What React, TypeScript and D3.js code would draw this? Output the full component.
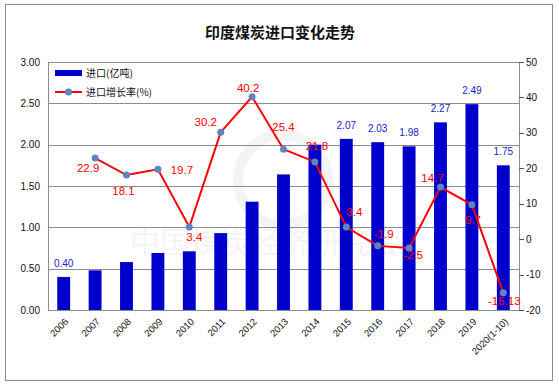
import React from "react";
import * as d3 from "d3";

const years = ["2006", "2007", "2008", "2009", "2010", "2011", "2012", "2013", "2014", "2015", "2016", "2017", "2018", "2019", "2020(1-10)"];
const imports = [0.40, 0.48, 0.58, 0.69, 0.71, 0.93, 1.31, 1.64, 2.00, 2.07, 2.03, 1.98, 2.27, 2.49, 1.75];
const importLabels = ["0.40", "", "", "", "", "", "", "", "", "2.07", "2.03", "1.98", "2.27", "2.49", "1.75"];
const growth = [null, 22.9, 18.1, 19.7, 3.4, 30.2, 40.2, 25.4, 21.8, 3.4, -1.9, -2.5, 14.7, 9.7, -15.13];
const growthLabels = ["", "22.9", "18.1", "19.7", "3.4", "30.2", "40.2", "25.4", "21.8", "3.4", "-1.9", "-2.5", "14.7", "9.7", "-15.13"];
// label offsets from the point (dx, dy)
const growthOffsets: [number, number][] = [
  [0, 0], [-7, 10], [-3, 16], [24, 1], [5, 10], [-15, -10], [-4, -9], [0, -22], [2, -16],
  [8, -15], [6, -12], [4, 7], [-8, -9], [1, 15], [1, 8],
];
const leftTicks = [0, 0.5, 1, 1.5, 2, 2.5, 3];
const rightTicks = [-20, -10, 0, 10, 20, 30, 40, 50];

const W = 559, H = 386;
const m = { left: 48, right: 519, top: 62, bottom: 310 };
const font = "'Liberation Sans', Arial, sans-serif";
const cjk = "'Noto Sans CJK SC', sans-serif";

export default function App() {
  const x = d3.scaleBand().domain(years).range([m.left, m.right]).paddingInner(0.59).paddingOuter(0.295);
  const yL = d3.scaleLinear().domain([0, 3]).range([m.bottom, m.top]);
  const yR = d3.scaleLinear().domain([-20, 50]).range([m.bottom, m.top]);
  const cx = (d: string) => (x(d) as number) + x.bandwidth() / 2;

  const pts = years.map((yr, i) => ({ yr, v: growth[i] })).filter((d) => d.v !== null) as { yr: string; v: number }[];
  const line = d3.line<{ yr: string; v: number }>().x((d) => cx(d.yr)).y((d) => yR(d.v));

  return (
    <svg width={W} height={H} style={{ position: "absolute", left: 0, top: 0 }}>
      <rect x={0} y={0} width={W} height={H} fill="#fff" />
      <rect x={5.5} y={4.5} width={547} height={376} fill="#fff" stroke="#8a8a8a" strokeWidth={1} />
      <text x={280} y={38} textAnchor="middle" fontFamily={cjk} fontSize={15} fontWeight={700} fill="#111">
        印度煤炭进口变化走势
      </text>

      {/* watermark */}
      <g opacity={0.04}>
        <circle cx={283} cy={180} r={45} fill="none" stroke="#000" strokeWidth={10} />
        <text x={265} y={253} textAnchor="middle" fontFamily={cjk} fontSize={30} fill="#000">中国煤炭经济研究会</text>
      </g>

      {leftTicks.map((t) => (
        <line key={t} x1={m.left} x2={m.right} y1={Math.round(yL(t)) + 0.5} y2={Math.round(yL(t)) + 0.5} stroke="#8c8c8c" />
      ))}
      <line x1={m.left + 0.5} x2={m.left + 0.5} y1={m.top} y2={m.bottom} stroke="#8c8c8c" />
      <line x1={m.right + 0.5} x2={m.right + 0.5} y1={m.top} y2={m.bottom + 0.5} stroke="#8c8c8c" />

      {years.map((yr, i) => (
        <rect key={yr} x={x(yr)} y={yL(imports[i])} width={x.bandwidth()} height={m.bottom - yL(imports[i])} fill="#0000cc" />
      ))}
      {years.map((yr, i) =>
        importLabels[i] ? (
          <text key={yr} x={cx(yr)} y={yL(imports[i]) - 10} textAnchor="middle" fontFamily={font} fontSize={10} fill="#1a1acc">
            {importLabels[i]}
          </text>
        ) : null
      )}

      <path d={line(pts) || ""} fill="none" stroke="#ff0000" strokeWidth={2} />
      {pts.map((d) => (
        <circle key={d.yr} cx={cx(d.yr)} cy={yR(d.v)} r={3.5} fill="#5b86c0" />
      ))}
      {years.map((yr, i) =>
        growthLabels[i] ? (
          <text key={yr} x={cx(yr) + growthOffsets[i][0]} y={yR(growth[i] as number) + growthOffsets[i][1]} dy="0.35em"
            textAnchor="middle" fontFamily={font} fontSize={11.5} fill="#ff0000">
            {growthLabels[i]}
          </text>
        ) : null
      )}

      {/* left axis labels */}
      {leftTicks.map((t) => (
        <text key={t} x={40} y={yL(t)} dy="0.35em" textAnchor="end" fontFamily={font} fontSize={10} fill="#111">
          {d3.format(".2f")(t)}
        </text>
      ))}
      {/* right axis */}
      {rightTicks.map((t) => (
        <g key={t}>
          <line x1={m.right} x2={m.right + 5} y1={Math.round(yR(t)) + 0.5} y2={Math.round(yR(t)) + 0.5} stroke="#555" />
          <text x={m.right + 7} y={yR(t)} dy="0.35em" fontFamily={font} fontSize={10} fill="#111">
            {t}
          </text>
        </g>
      ))}
      {/* x labels */}
      {years.map((yr) => (
        <text key={yr} transform={`translate(${cx(yr) + 3},${m.bottom + 10}) rotate(-45)`} textAnchor="end" dy="0.35em"
          fontFamily={font} fontSize={9.5} fill="#111">
          {yr}
        </text>
      ))}

      {/* legend */}
      <rect x={55} y={70} width={27} height={6} fill="#0000cc" />
      <text x={86} y={73} dy="0.35em" fontFamily={cjk} fontSize={10} fill="#111">进口(亿吨)</text>
      <line x1={55} x2={82} y1={92} y2={92} stroke="#ff0000" strokeWidth={2} />
      <circle cx={68.5} cy={92} r={3.5} fill="#5b86c0" />
      <text x={86} y={92} dy="0.35em" fontFamily={cjk} fontSize={10} fill="#111">进口增长率(%)</text>
    </svg>
  );
}
